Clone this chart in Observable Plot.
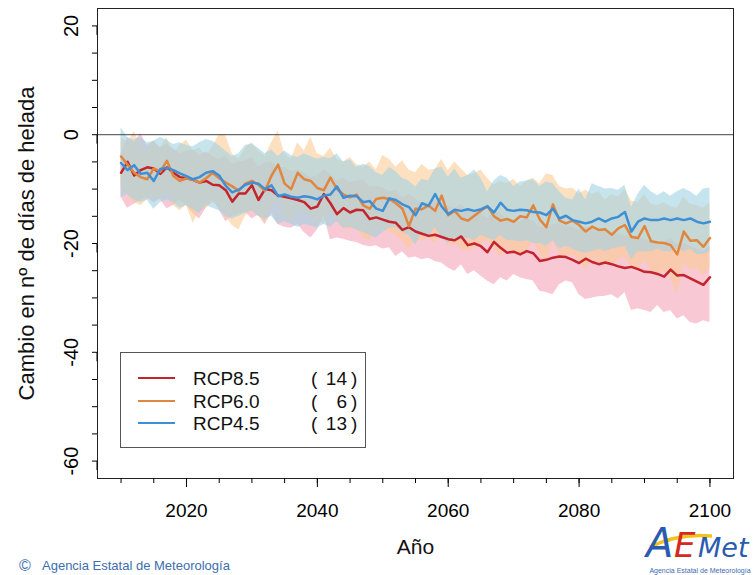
<!DOCTYPE html>
<html><head><meta charset="utf-8">
<script src="https://cdn.jsdelivr.net/npm/d3@7"></script>
<script src="https://cdn.jsdelivr.net/npm/@observablehq/plot@0.6"></script>
<style>
html,body{margin:0;padding:0;background:#fff;}
#wrap{position:relative;width:756px;height:575px;overflow:hidden;font-family:"Liberation Sans",Arial,sans-serif;}
#chart{position:absolute;left:0;top:0;}
.ov{position:absolute;left:0;top:0;pointer-events:none;}
</style></head>
<body><div id="wrap"><div id="chart"></div><svg id="overlay" class="ov" width="756" height="575"></svg></div>
<script>
const years = [2010,2011,2012,2013,2014,2015,2016,2017,2018,2019,2020,2021,2022,2023,2024,2025,2026,2027,2028,2029,2030,2031,2032,2033,2034,2035,2036,2037,2038,2039,2040,2041,2042,2043,2044,2045,2046,2047,2048,2049,2050,2051,2052,2053,2054,2055,2056,2057,2058,2059,2060,2061,2062,2063,2064,2065,2066,2067,2068,2069,2070,2071,2072,2073,2074,2075,2076,2077,2078,2079,2080,2081,2082,2083,2084,2085,2086,2087,2088,2089,2090,2091,2092,2093,2094,2095,2096,2097,2098,2099,2100];

const scenarioNames = ["RCP8.5","RCP6.0","RCP4.5"];
const modelCounts = [14, 6, 13];

const rcp85Mean = [-7.0,-5.0,-7.5,-6.5,-6.0,-6.2,-7.2,-6.0,-7.0,-7.8,
 -8.0,-8.3,-8.8,-8.5,-9.2,-9.3,-10.2,-12.3,-10.8,-10.8,
 -9.3,-12.0,-10.0,-10.2,-11.2,-11.4,-11.7,-12.0,-12.4,-13.6,
 -13.2,-10.9,-12.6,-14.6,-13.5,-14.3,-13.8,-13.9,-15.5,-15.2,
 -15.6,-16.0,-16.2,-17.5,-17.0,-17.8,-18.2,-18.6,-18.4,-18.8,
 -19.2,-19.4,-18.7,-20.3,-20.0,-20.5,-21.6,-19.7,-20.8,-21.7,
 -21.5,-22.0,-21.4,-21.8,-23.2,-23.0,-22.6,-22.4,-22.5,-23.0,
 -23.6,-22.8,-23.4,-23.8,-23.5,-23.8,-24.2,-24.5,-24.3,-24.7,
 -25.2,-25.3,-25.6,-26.1,-24.8,-25.9,-25.8,-26.4,-27.0,-27.6,
 -26.2];
const rcp85Lo = [-11.5,-13.5,-12.8,-12.0,-11.5,-12.5,-11.8,-13.6,-13.0,-12.0,
 -13.0,-14.5,-15.5,-13.5,-12.0,-13.8,-16.0,-15.0,-14.5,-14.2,
 -15.5,-14.8,-16.5,-14.5,-16.5,-17.0,-17.2,-16.5,-18.0,-19.0,
 -17.5,-14.8,-19.3,-19.0,-19.2,-19.6,-19.8,-20.3,-20.6,-20.4,
 -21.0,-20.8,-22.4,-21.5,-22.7,-22.5,-23.0,-22.7,-23.3,-23.6,
 -24.5,-25.1,-23.9,-25.7,-25.0,-26.0,-26.9,-27.6,-26.3,-26.9,
 -25.7,-26.3,-26.6,-26.9,-28.8,-29.0,-29.4,-27.6,-26.9,-27.2,
 -29.4,-30.3,-30.0,-29.8,-29.7,-29.4,-30.2,-29.0,-32.3,-32.0,
 -32.3,-32.7,-31.4,-32.7,-32.3,-33.9,-33.3,-34.5,-34.8,-34.2,
 -34.5];
const rcp85Hi = [-3.5,-0.5,-1.5,0.2,-2.0,-1.2,-2.5,-1.8,-2.6,-3.5,
 -3.0,-2.8,-3.8,-3.2,-4.0,-4.5,-4.0,-5.5,-5.0,-4.8,
 -4.2,-6.0,-5.2,-5.0,-6.2,-6.0,-6.8,-6.5,-7.0,-8.0,
 -7.5,-6.5,-7.2,-8.6,-8.0,-8.8,-8.5,-8.3,-9.6,-9.5,
 -9.8,-10.5,-10.2,-11.6,-11.0,-11.8,-12.5,-12.4,-12.0,-12.8,
 -13.2,-13.6,-12.8,-14.0,-14.2,-14.5,-15.4,-14.0,-14.6,-15.5,
 -15.8,-16.0,-15.4,-15.9,-17.0,-17.2,-16.5,-16.4,-16.8,-17.0,
 -17.6,-17.0,-17.4,-18.0,-17.5,-18.0,-18.3,-18.6,-18.5,-18.8,
 -19.2,-19.5,-19.8,-20.0,-19.0,-20.2,-20.0,-20.5,-21.0,-21.5,
 -20.5];

const rcp60Mean = [-4.0,-5.5,-7.0,-7.8,-8.2,-6.2,-6.8,-4.8,-7.6,-8.5,
 -8.0,-8.3,-8.8,-8.0,-7.0,-8.0,-8.8,-9.5,-10.3,-9.0,
 -8.5,-9.2,-10.3,-7.5,-5.5,-9.0,-10.0,-7.0,-8.2,-8.5,
 -9.8,-10.2,-7.9,-10.0,-11.0,-11.5,-11.0,-13.0,-13.6,-11.8,
 -11.6,-11.8,-12.6,-13.6,-16.8,-13.6,-13.7,-13.0,-14.0,-11.2,
 -14.8,-14.0,-15.4,-15.8,-14.9,-14.0,-13.1,-15.0,-15.8,-15.5,
 -16.0,-15.0,-15.2,-13.0,-15.6,-17.0,-12.8,-15.8,-16.3,-15.8,
 -16.6,-17.8,-16.9,-17.5,-17.4,-18.4,-17.2,-16.6,-18.8,-19.0,
 -16.8,-19.6,-19.8,-19.9,-20.3,-22.0,-17.8,-19.5,-19.4,-20.6,
 -19.0];
const rcp60Lo = [-9.5,-11.0,-12.5,-13.0,-12.0,-11.5,-12.0,-10.5,-13.0,-14.0,
 -13.0,-16.3,-14.0,-13.5,-12.5,-13.0,-15.0,-16.7,-17.5,-15.0,
 -14.0,-15.0,-16.0,-13.5,-12.0,-15.0,-16.0,-13.5,-14.5,-15.0,
 -16.0,-16.5,-14.0,-16.0,-17.0,-17.5,-17.0,-19.0,-19.5,-17.5,
 -17.5,-18.0,-18.5,-19.5,-21.0,-19.5,-19.5,-19.0,-20.0,-17.5,
 -20.5,-20.0,-21.0,-21.5,-21.0,-20.0,-19.5,-21.0,-22.5,-21.0,
 -21.5,-22.0,-21.5,-19.5,-22.0,-23.5,-19.5,-22.0,-22.5,-22.0,
 -23.0,-25.0,-23.0,-23.5,-23.5,-24.0,-23.0,-22.5,-24.5,-25.0,
 -23.0,-25.0,-25.5,-25.0,-26.0,-29.6,-23.5,-25.0,-24.5,-26.0,
 -24.5];
const rcp60Hi = [-0.5,-1.5,0.6,-2.0,-3.0,-1.0,-2.5,-0.5,-3.5,-2.0,
 -1.0,-3.0,-2.5,-3.8,-2.2,0.0,-0.2,-3.5,-4.5,-2.5,
 -1.5,-3.0,-4.0,-1.5,0.7,-3.5,-4.5,-1.5,-3.0,-0.5,
 -3.5,-4.0,-2.5,-4.5,-5.0,-4.2,-5.5,-6.0,-5.0,-6.5,
 -3.8,-4.5,-6.0,-4.8,-6.5,-7.0,-5.5,-6.5,-6.4,-4.5,
 -6.6,-5.0,-6.3,-7.5,-7.2,-6.5,-8.0,-9.3,-8.5,-9.0,
 -8.2,-9.5,-8.5,-8.0,-9.0,-7.2,-7.5,-9.5,-10.0,-9.8,
 -10.8,-10.2,-11.0,-10.5,-12.0,-11.0,-11.5,-10.0,-12.2,-12.5,
 -11.0,-12.8,-13.0,-12.5,-13.2,-13.5,-11.4,-12.8,-13.0,-13.5,
 -12.5];

const rcp45Mean = [-5.2,-6.5,-5.6,-7.2,-7.0,-8.5,-6.3,-6.1,-6.5,-7.1,
 -7.6,-8.2,-7.8,-7.0,-6.7,-7.5,-9.4,-10.6,-10.1,-9.2,
 -8.8,-9.0,-10.0,-9.3,-11.3,-11.0,-11.4,-11.6,-11.3,-11.5,
 -11.9,-11.2,-11.0,-9.5,-11.6,-11.2,-11.3,-12.4,-12.2,-13.6,
 -14.0,-11.7,-12.0,-12.8,-13.3,-14.8,-12.6,-13.1,-10.9,-13.2,
 -14.6,-13.8,-14.0,-13.7,-14.0,-13.7,-13.2,-14.3,-12.5,-13.8,
 -14.0,-13.8,-13.9,-14.2,-14.3,-14.8,-13.6,-15.4,-14.9,-15.7,
 -16.0,-16.3,-16.0,-15.4,-16.0,-15.4,-15.1,-14.2,-17.8,-16.0,
 -15.4,-15.7,-15.7,-15.4,-15.7,-15.4,-15.7,-15.4,-16.0,-16.3,
 -16.0];
const rcp45Lo = [-11.6,-11.0,-12.0,-12.5,-12.0,-13.7,-12.5,-12.0,-12.5,-13.5,
 -13.0,-13.8,-14.5,-13.0,-13.5,-14.0,-15.0,-15.5,-15.0,-14.5,
 -14.0,-15.0,-15.5,-15.0,-16.5,-16.0,-16.5,-17.0,-16.5,-16.8,
 -17.2,-16.5,-17.0,-16.0,-17.2,-17.0,-17.5,-18.0,-18.5,-19.0,
 -18.0,-17.2,-17.0,-18.0,-18.5,-20.3,-18.0,-19.0,-17.0,-19.0,
 -20.0,-19.0,-19.5,-19.0,-19.5,-18.5,-19.0,-19.5,-18.5,-19.5,
 -19.5,-19.7,-19.5,-20.0,-20.0,-20.5,-19.5,-21.0,-20.5,-21.0,
 -21.5,-21.8,-21.5,-21.0,-21.5,-21.0,-20.8,-20.5,-23.0,-21.5,
 -21.5,-21.5,-21.0,-21.5,-21.5,-21.0,-21.5,-21.0,-22.0,-22.0,
 -21.5];
const rcp45Hi = [1.3,-0.5,-1.0,-0.5,-1.5,-1.2,-0.5,-1.0,-1.8,-1.5,
 -2.0,-2.2,-1.5,-0.9,-1.2,-2.0,-3.0,-4.0,-3.5,-2.0,
 -1.7,-2.5,-3.5,-2.8,-4.0,-3.0,-3.8,-4.2,-3.5,-4.0,
 -4.5,-4.2,-4.4,-3.5,-5.0,-4.6,-6.0,-5.5,-5.8,-7.0,
 -7.5,-6.0,-6.8,-8.0,-8.5,-9.6,-8.2,-8.5,-6.3,-6.0,
 -7.8,-6.3,-8.0,-7.5,-6.5,-8.0,-10.5,-8.5,-7.5,-8.0,
 -9.5,-8.7,-8.5,-8.3,-9.5,-8.7,-9.0,-10.5,-11.7,-12.0,
 -10.0,-12.0,-9.0,-9.5,-10.0,-9.9,-10.2,-9.3,-13.4,-11.0,
 -9.3,-10.5,-11.2,-10.5,-11.3,-10.5,-9.9,-10.5,-11.3,-10.0,
 -9.8];

const xMajor = [2020,2040,2060,2080,2100];
const xMinor = [2010,2015,2020,2025,2030,2035,2040,2045,2050,2055,2060,2065,2070,2075,2080,2085,2090,2095,2100];
const yMajor = [-60,-40,-20,0,20];
const yMinor = [-60,-55,-50,-45,-40,-35,-30,-25,-20,-15,-10,-5,0,5,10,15,20];

const lineColors = ["#c4242b","#e0863e","#3d8fd6"];
const bandColors = ["#f3a3b8","#fbcb96","#a0d2e3"];
const yTitle = "Cambio en nº de días de helada";
const xTitle = "Año";

const series = [
  {name: scenarioNames[0], mean: rcp85Mean, lo: rcp85Lo, hi: rcp85Hi},
  {name: scenarioNames[1], mean: rcp60Mean, lo: rcp60Lo, hi: rcp60Hi},
  {name: scenarioNames[2], mean: rcp45Mean, lo: rcp45Lo, hi: rcp45Hi}
];
const tables = series.map(s => years.map((y, i) => ({year: y, mean: s.mean[i], lo: s.lo[i], hi: s.hi[i]})));

const chart = Plot.plot({
  width: 756, height: 575,
  marginLeft: 97, marginRight: 23, marginTop: 8, marginBottom: 97,
  style: {fontFamily: "'Liberation Sans', Arial, sans-serif", color: "#000", background: "#fff"},
  x: {domain: [2006.4, 2103.6], label: null},
  y: {domain: [-63.2, 23.2], label: null},
  marks: [
    ...tables.map((t, k) => Plot.areaY(t, {x: "year", y1: "lo", y2: "hi", fill: bandColors[k], fillOpacity: 0.6})),
    Plot.ruleY([0], {stroke: "#444", strokeWidth: 1}),
    ...tables.map((t, k) => Plot.lineY(t, {x: "year", y: "mean", stroke: lineColors[k], strokeWidth: 2.5})),
    Plot.frame({stroke: "#222"}),
    Plot.axisX({ticks: xMinor, tickSize: 5, tickFormat: () => "", label: null}),
    Plot.axisX({ticks: xMajor, tickSize: 9, tickPadding: 16, fontSize: 19, tickFormat: d => String(d), label: null}),
    Plot.axisY({ticks: yMinor, tickSize: 5, tickFormat: () => "", label: null}),
    Plot.axisY({ticks: yMajor, tickSize: 9, tickPadding: 17, rotate: -90, textAnchor: "middle", fontSize: 20, tickFormat: d => String(d), label: null}),
    Plot.text([yTitle], {frameAnchor: "left", textAnchor: "middle", dx: -71, rotate: -90, fontSize: 22, text: d => d, fill: "#111"}),
    Plot.text([xTitle], {frameAnchor: "bottom", textAnchor: "middle", dy: 75, fontSize: 21, text: d => d, fill: "#111"})
  ]
});
document.getElementById("chart").appendChild(chart);

// Legend + credits overlay
const ov = d3.select("#overlay");
const lg = ov.append("g");
lg.append("rect").attr("x", 120.5).attr("y", 352.5).attr("width", 245).attr("height", 95)
  .attr("fill", "#fff").attr("stroke", "#555").attr("stroke-width", 1);
const rowY = [378, 401, 423];
scenarioNames.forEach((n, i) => {
  lg.append("line").attr("x1", 138).attr("x2", 175).attr("y1", rowY[i]).attr("y2", rowY[i])
    .attr("stroke", lineColors[i]).attr("stroke-width", 2);
  lg.append("text").attr("x", 193).attr("y", rowY[i]).attr("dy", "0.35em")
    .attr("font-size", 19).attr("fill", "#111").text(n);
  lg.append("text").attr("x", 311).attr("y", rowY[i]).attr("dy", "0.35em")
    .attr("font-size", 19).attr("fill", "#111").text("(");
  lg.append("text").attr("x", 347).attr("y", rowY[i]).attr("dy", "0.35em").attr("text-anchor", "end")
    .attr("font-size", 19).attr("fill", "#111").text(String(modelCounts[i]));
  lg.append("text").attr("x", 351).attr("y", rowY[i]).attr("dy", "0.35em")
    .attr("font-size", 19).attr("fill", "#111").text(")");
});

// copyright
ov.append("text").attr("x", 19).attr("y", 571).attr("font-size", 16).attr("fill", "#3d6db0").text("©");
ov.append("text").attr("x", 42).attr("y", 570).attr("font-size", 13).attr("fill", "#3d6db0")
  .text("Agencia Estatal de Meteorología");

// logo
const logo = ov.append("g");
logo.append("path").attr("d", "M650,547 C668,538 690,534 712,536").attr("fill", "none")
  .attr("stroke", "#f2c320").attr("stroke-width", 3.5);
logo.append("text").attr("x", 646).attr("y", 557).attr("font-size", 40).attr("font-style", "italic")
  .attr("font-family", "'DejaVu Sans', sans-serif").attr("fill", "#2a5bb0").text("A");
logo.append("text").attr("x", 674).attr("y", 557).attr("font-size", 34).attr("font-style", "italic")
  .attr("font-family", "'DejaVu Sans', sans-serif").attr("fill", "#d42a1e").text("E");
logo.append("text").attr("x", 698).attr("y", 557).attr("font-size", 27).attr("font-style", "italic")
  .attr("font-family", "'DejaVu Sans', sans-serif").attr("fill", "#2a5bb0").text("Met");
logo.append("text").attr("x", 700).attr("y", 573).attr("text-anchor", "middle").attr("font-size", 7)
  .attr("fill", "#3d6db0").text("Agencia Estatal de Meteorología");
</script>
</body></html>
